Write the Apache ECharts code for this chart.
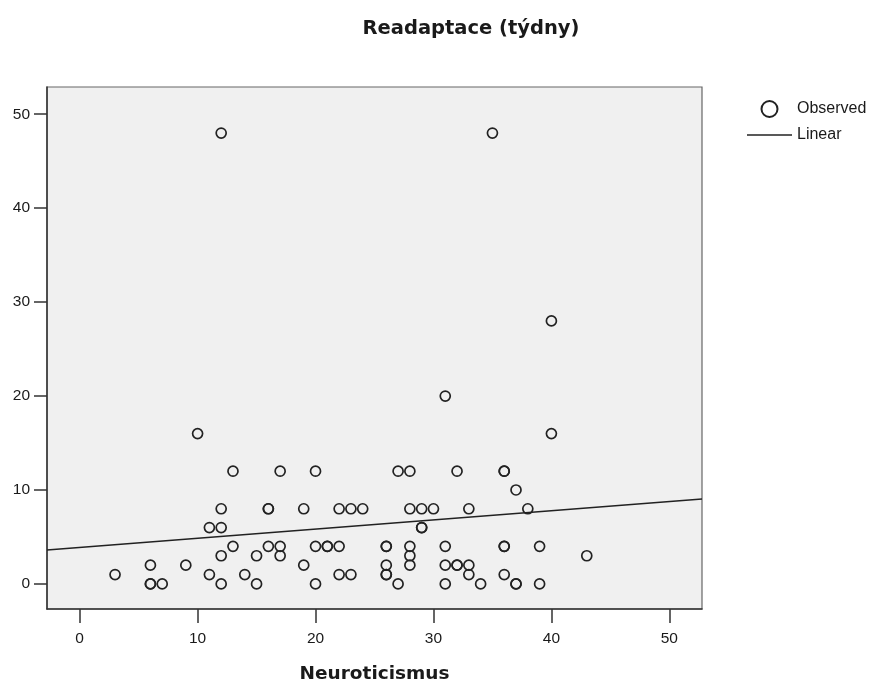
<!DOCTYPE html>
<html>
<head>
<meta charset="utf-8">
<title>Readaptace (týdny)</title>
<script src="https://cdn.jsdelivr.net/npm/echarts@6/dist/echarts.min.js"></script>
<style>
  html, body { margin: 0; padding: 0; background: #ffffff; }
  #chart { width: 870px; height: 682px; }
</style>
</head>
<body>
<div id="chart"></div>
<script>
// Observed cases: Neuroticismus score and readaptation time in weeks
var neuroticismus = [
  3, 6, 6, 6, 7, 9, 10, 11, 11, 12, 12, 12, 12, 12, 13, 13, 14, 15, 15, 16, 16, 16,
  17, 17, 17, 19, 19, 20, 20, 20, 21, 21, 22, 22, 22, 23, 23, 24,
  26, 26, 26, 26, 26, 27, 27, 28, 28, 28, 28, 28, 29, 29, 29, 30, 31, 31, 31, 31,
  32, 32, 32, 33, 33, 33, 34, 35, 36, 36, 36, 36, 36, 37, 37, 37, 38, 39, 39, 40, 40, 43
];
var readaptace = [
  1, 2, 0, 0, 0, 2, 16, 1, 6, 6, 8, 3, 0, 48, 12, 4, 1, 3, 0, 8, 8, 4,
  12, 4, 3, 8, 2, 12, 4, 0, 4, 4, 8, 4, 1, 8, 1, 8,
  4, 4, 2, 1, 1, 12, 0, 12, 8, 4, 3, 2, 8, 6, 6, 8, 20, 4, 2, 0,
  12, 2, 2, 8, 2, 1, 0, 48, 12, 12, 4, 4, 1, 10, 0, 0, 8, 4, 0, 28, 16, 3
];

// Linear fit, evaluated at both ends of the x range
var fitX = [-2.77, 52.77];
var fitY = [3.62, 9.03];

var xTicks = [0, 10, 20, 30, 40, 50];
var yTicks = [0, 10, 20, 30, 40, 50];

var observed = neuroticismus.map(function (x, i) { return [x, readaptace[i]]; });
var linear = fitX.map(function (x, i) { return [x, fitY[i]]; });

var sans = '"Liberation Sans", Arial, sans-serif';
var wide = '"DejaVu Sans", sans-serif';
var ink = '#1a1a1a';

var chart = echarts.init(document.getElementById('chart'), null, { renderer: 'canvas' });
chart.setOption({
  animation: false,
  backgroundColor: '#ffffff',
  title: {
    text: 'Readaptace (týdny)',
    left: 466,
    top: 14,
    textAlign: 'center',
    textStyle: { fontFamily: wide, fontSize: 19.5, fontWeight: 'bold', color: ink }
  },
  legend: {
    orient: 'vertical',
    left: 747,
    top: 100,
    padding: 0,
    itemWidth: 45,
    itemHeight: 16,
    itemGap: 9,
    textStyle: { fontFamily: sans, fontSize: 16, color: ink },
    data: [
      { name: 'Observed', icon: 'circle' },
      { name: 'Linear', icon: 'path://M0,7.2L45,7.2L45,8.8L0,8.8Z' }
    ]
  },
  grid: {
    left: 47,
    right: 168,
    top: 87,
    bottom: 73,
    outerBoundsMode: 'none',
    containLabel: false,
    show: true,
    backgroundColor: '#f0f0f0',
    borderColor: '#666666',
    borderWidth: 1.2
  },
  xAxis: {
    type: 'value',
    min: -2.77,
    max: 52.77,
    name: 'Neuroticismus',
    nameLocation: 'middle',
    nameGap: 56,
    nameTextStyle: { fontFamily: wide, fontSize: 18.5, fontWeight: 'bold', color: ink },
    axisLine: { show: true, onZero: false, lineStyle: { color: '#333333', width: 1.5 } },
    axisTick: { show: true, inside: false, length: 14, customValues: xTicks, lineStyle: { color: '#333333', width: 1.5 } },
    axisLabel: { customValues: xTicks, margin: 22, fontFamily: sans, fontSize: 15.5, color: ink },
    splitLine: { show: false }
  },
  yAxis: {
    type: 'value',
    min: -2.67,
    max: 52.9,
    axisLine: { show: true, onZero: false, lineStyle: { color: '#333333', width: 1.5 } },
    axisTick: { show: true, inside: false, length: 13, customValues: yTicks, lineStyle: { color: '#333333', width: 1.5 } },
    axisLabel: { customValues: yTicks, margin: 17, fontFamily: sans, fontSize: 15.5, color: ink },
    splitLine: { show: false }
  },
  series: [
    {
      name: 'Observed',
      type: 'scatter',
      data: observed,
      symbol: 'circle',
      symbolSize: 10,
      itemStyle: { color: 'rgba(0,0,0,0)', borderColor: '#222222', borderWidth: 1.7, opacity: 1 },
      z: 3
    },
    {
      name: 'Linear',
      type: 'line',
      data: linear,
      showSymbol: false,
      symbol: 'none',
      lineStyle: { color: '#222222', width: 1.5 },
      itemStyle: { color: '#222222' },
      z: 2
    }
  ]
});
</script>
</body>
</html>
